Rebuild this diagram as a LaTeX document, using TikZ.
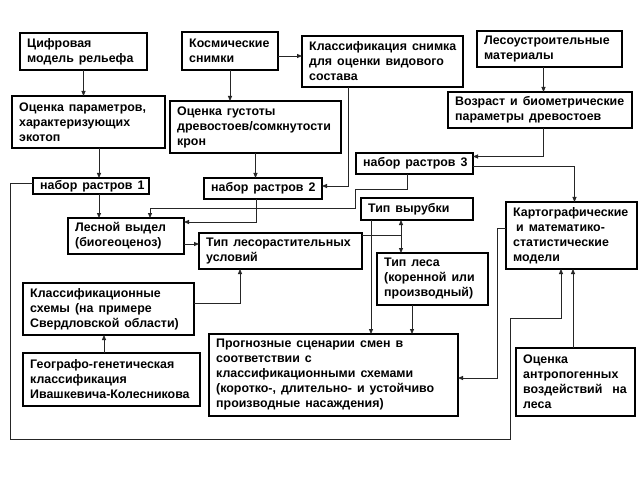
\documentclass[tikz,border=0pt]{standalone}
\usepackage{fontspec}
\setmainfont{Liberation Sans}
\usetikzlibrary{arrows.meta,calc}
\newcommand\bxnode[6]{%
  \node[box, minimum width={(#4-#2)*1pt}, minimum height={(#5-#3)*1pt}] (#1) at ({(#2+#4)/2},{(#3+#5)/2}) {};
  \node[txt] (#1-t) at ([xshift=7pt]#1.west) {#6};}
\newcommand\boxfont{\fontsize{12.4}{15}\selectfont\bfseries\spaceskip=5pt plus 1pt minus 0.5pt\relax}
\begin{document}
\begin{tikzpicture}[x=1pt,y=-1pt,
  box/.style={draw=black, line width=1.1pt, inner sep=0pt, outer sep=0pt, fill=white},
  txt/.style={anchor=west, align=left, inner sep=0pt, font=\boxfont},
  conn/.style={line width=0.8pt, draw=black!85},
  arr/.style={conn, -{Triangle[length=5pt,width=4pt]}},
  darr/.style={conn, {Triangle[length=5pt,width=4pt]}-{Triangle[length=5pt,width=4pt]}}]
\useasboundingbox[fill=white] (0,0) rectangle (642,481);

\bxnode{cifr}{20}{33}{147}{70}{Цифровая\\модель рельефа}
\bxnode{kosm}{182}{32}{278}{70}{Космические\\снимки}
\bxnode{klass}{302}{36}{463}{87}{Классификация снимка\\для оценки видового\\состава}
\bxnode{lesou}{477}{31}{622}{67}{Лесоустроительные\\материалы}
\bxnode{ocpar}{12}{96}{165}{148}{Оценка параметров,\\характеризующих\\экотоп}
\bxnode{ocgus}{170}{101}{341}{153}{Оценка густоты\\древостоев/сомкнутости\\крон}
\bxnode{vozr}{448}{92}{632}{128}{Возраст и биометрические\\параметры древостоев}
\bxnode{nr1}{33}{178}{149}{194}{набор растров 1}
\bxnode{nr2}{204}{178}{322}{199}{набор растров 2}
\bxnode{nr3}{356}{153}{473}{174}{набор растров 3}
\bxnode{vydel}{68}{218}{184}{254}{Лесной выдел\\(биогеоценоз)}
\bxnode{tlu}{199}{233}{362}{269}{Тип лесорастительных\\условий}
\bxnode{tvyr}{361}{198}{473}{220}{Тип вырубки}
\bxnode{tles}{377}{253}{488}{305}{Тип леса\\(коренной или\\производный)}
\bxnode{karto}{506}{202}{637}{269}{Картографические\\\hspace*{3pt}и математико-\\статистические\\модели}
\bxnode{kls}{23}{283}{194}{335}{Классификационные\\схемы (на примере\\Свердловской области)}
\bxnode{geo}{23}{353}{200}{406}{Географо-генетическая\\классификация\\Ивашкевича-Колесникова}
\bxnode{progn}{209}{334}{458}{416}{Прогнозные сценарии смен в\\соответствии с\\классификационными схемами\\(коротко-, длительно- и устойчиво\\производные насаждения)}
\bxnode{antr}{516}{348}{635}{416}{Оценка\\антропогенных\\воздействий~~на\\леса}

\draw[arr] (cifr.south) -- (cifr.south |- ocpar.north);
\coordinate (k1) at ([yshift=-5pt]kosm.east);
\draw[arr] (k1) -- (k1 -| klass.west);
\draw[arr] (kosm.south) -- (kosm.south |- ocgus.north);
\coordinate (l1) at ([xshift=-6pt]lesou.south);
\draw[arr] (l1) -- (l1 |- vozr.north);
\coordinate (p1) at ([xshift=8pt]nr1.north);
\draw[arr] (p1 |- ocpar.south) -- (p1);
\draw[arr] (ocgus.south) -- (ocgus.south |- nr2.north);
\draw[arr] ([xshift=3pt]vozr.south) |- ([yshift=7pt]nr3.east);
\draw[arr] ([yshift=-3pt]nr3.east) -| ([xshift=3pt]karto.north);
\draw[arr] ([xshift=-34.5pt]klass.south) |- ([yshift=2.5pt]nr2.east);
\draw[arr] ([xshift=-7pt]nr2.south) |- ([yshift=14pt]vydel.east);
\draw[arr] ([xshift=-7.5pt]nr3.south) -- ++(0,15) -- ++(-52,0) -- ++(0,19) -| ([xshift=24pt]vydel.north);
\draw[arr] (p1 |- nr1.south) -- (p1 |- vydel.north);
\coordinate (v1) at ([yshift=-8pt]vydel.east);
\draw[arr] (v1) -- (v1 -| tlu.west);
\draw[arr] ([yshift=6pt]kls.east) -| ([xshift=-40.5pt]tlu.south);
\coordinate (g1) at ([xshift=-7.5pt]geo.north);
\draw[arr] (g1) -- (g1 |- kls.south);
\coordinate (t1) at ([xshift=-16pt]tvyr.south);
\draw[darr] (t1) -- (t1 |- tles.north);
\coordinate (t2) at ([yshift=16pt]tlu.east);
\draw[conn] (t2) -- (t2 -| t1);
\coordinate (t3) at ([xshift=-46pt]tvyr.south);
\draw[arr] (t3) -- (t3 |- progn.north);
\coordinate (t4) at ([xshift=-20.5pt]tles.south);
\draw[arr] (t4) -- (t4 |- progn.north);
\draw[arr] ([yshift=7.5pt]karto.west) -- ++(-9,0) |- ([yshift=-3pt]progn.east);
\coordinate (a1) at ([xshift=1.5pt]karto.south);
\draw[arr] (a1 |- antr.north) -- (a1);
\draw[arr] ([yshift=2.5pt]nr1.west) -- ++(-23,0) -- ++(0,256) -- ++(500,0) -- ++(0,-121) -| ([xshift=-10.5pt]karto.south);
\end{tikzpicture}
\end{document}
